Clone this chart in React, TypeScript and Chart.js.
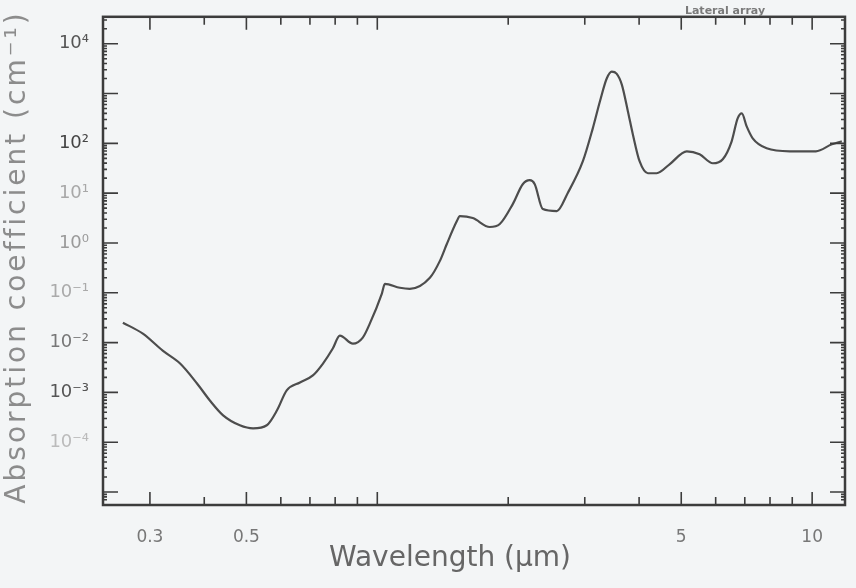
import { useEffect, useRef } from 'react';
import { Chart, registerables } from 'chart.js';

Chart.register(...registerables);

// Wavelength (µm)
const wavelengthUm = [
  0.26, 0.289, 0.321, 0.352, 0.385, 0.412, 0.442, 0.483, 0.518, 0.557,
  0.588, 0.619, 0.664, 0.711, 0.75, 0.79, 0.82, 0.879, 0.926, 0.961,
  1.024, 1.041, 1.127, 1.188, 1.321, 1.393, 1.445, 1.524, 1.548, 1.658,
  1.814, 1.913, 2.049, 2.16, 2.242, 2.302, 2.402, 2.587, 2.74, 2.97,
  3.13, 3.25, 3.37, 3.46, 3.55, 3.65, 3.77, 3.87, 4.01, 4.19,
  4.39, 4.7, 5.15, 5.51, 5.91, 6.23, 6.53, 6.74, 6.89, 7.07,
  7.3, 7.86, 8.88, 10.2, 11.1, 11.7,
];

// Absorption coefficient (cm⁻¹)
const absorptionPerCm = [
  0.0251, 0.0151, 0.0069, 0.0038, 0.00151, 0.00069, 0.000347, 0.000219, 0.00019, 0.000219,
  0.000437, 0.0011, 0.00158, 0.00219, 0.0038, 0.0076, 0.0138, 0.0095, 0.0126, 0.024,
  0.0955, 0.151, 0.126, 0.12, 0.2, 0.437, 0.955, 2.75, 3.47, 3.16,
  2.09, 2.4, 6.03, 15.1, 18.2, 15.1, 4.79, 4.37, 10, 43.7,
  200, 692, 2000, 2750, 2510, 1510, 437, 151, 43.7, 25.1,
  25.1, 38, 69.2, 60.3, 39.8, 47.9, 110, 316, 398, 219,
  126, 79.4, 69.2, 69.2, 95.5, 110,
];

const xTickValues = [0.3, 0.5, 5, 10];
const xTickText = ['0.3', '0.5', '5', '10'];
const yTickExponents = [4, 2, 1, 0, -1, -2, -3, -4];
const yTickText = ['10⁴', '10²', '10¹', '10⁰', '10⁻¹', '10⁻²', '10⁻³', '10⁻⁴'];

const xTitle = 'Wavelength (µm)';
const yTitle = 'Absorption coefficient (cm⁻¹)';
const cornerNote = 'Lateral array';

const X_MIN = 0.234;
const X_MAX = 11.9;
const Y_MIN = Math.pow(10, -5.26);
const Y_MAX = Math.pow(10, 4.54);

const yLabelShade: Record<number, string> = {
  4: '#555', 2: '#444', 1: '#a8a8a8', 0: '#9a9a9a', [-1]: '#aaa', [-2]: '#777', [-3]: '#555', [-4]: '#bbb',
};

function logTicks(min: number, max: number) {
  const out: number[] = [];
  for (let e = Math.floor(Math.log10(min)); e <= Math.ceil(Math.log10(max)); e++) {
    for (let m = 1; m <= 9; m++) {
      const v = m * Math.pow(10, e);
      if (v >= min * 0.9999 && v <= max * 1.0001) out.push(v);
    }
  }
  return out;
}

function isDecade(v: number) {
  const l = Math.log10(v);
  return Math.abs(l - Math.round(l)) < 1e-6;
}

function near(a: number, b: number) {
  return Math.abs(a - b) / b < 1e-6;
}

export default function App() {
  const ref = useRef<HTMLCanvasElement | null>(null);

  useEffect(() => {
    document.body.style.margin = '0';
    document.body.style.background = '#f3f5f6';
    const canvas = ref.current;
    if (!canvas) return;

    const decor = {
      id: 'decor',
      beforeDraw(chart: any) {
        const { ctx } = chart;
        ctx.save();
        ctx.fillStyle = '#f3f5f6';
        ctx.fillRect(0, 0, chart.width, chart.height);
        ctx.restore();
      },
      afterDatasetsDraw(chart: any) {
        const { ctx, chartArea: ca } = chart;
        const xs = chart.scales.x;
        const ys = chart.scales.y;
        ctx.save();
        ctx.strokeStyle = '#3c3c3c';
        ctx.lineWidth = 2.5;
        ctx.strokeRect(ca.left, ca.top, ca.right - ca.left, ca.bottom - ca.top);
        ctx.lineWidth = 1.6;
        ctx.beginPath();
        for (const t of xs.ticks) {
          const px = xs.getPixelForValue(t.value);
          if (px < ca.left + 2 || px > ca.right - 2) continue;
          const major = isDecade(t.value) || xTickValues.some((v) => near(t.value, v));
          const len = major ? 13 : 8;
          ctx.moveTo(px, ca.bottom);
          ctx.lineTo(px, ca.bottom - len);
          ctx.moveTo(px, ca.top);
          ctx.lineTo(px, ca.top + len);
        }
        for (const t of ys.ticks) {
          const py = ys.getPixelForValue(t.value);
          if (py < ca.top + 2 || py > ca.bottom - 2) continue;
          const len = isDecade(t.value) ? 15 : 4;
          ctx.moveTo(ca.left, py);
          ctx.lineTo(ca.left + len, py);
          ctx.moveTo(ca.right, py);
          ctx.lineTo(ca.right - len, py);
        }
        ctx.stroke();

        // axis titles
        ctx.fillStyle = '#666';
        ctx.font = '28px "DejaVu Sans"';
        ctx.textAlign = 'center';
        ctx.textBaseline = 'alphabetic';
        ctx.fillText(xTitle, 450, 566);

        ctx.save();
        ctx.translate(18, 257);
        ctx.rotate(-Math.PI / 2);
        ctx.fillStyle = '#8c8c8c';
        ctx.font = '28px "DejaVu Sans"';
        (ctx as any).letterSpacing = '3px';
        ctx.textBaseline = 'middle';
        ctx.fillText(yTitle, 0, 0);
        ctx.restore();

        ctx.fillStyle = '#7a7a7a';
        ctx.font = 'bold 11px "DejaVu Sans"';
        ctx.textAlign = 'center';
        ctx.fillText(cornerNote, 725, 14);
        ctx.restore();
      },
    };

    const chart = new Chart(canvas, {
      type: 'line',
      data: {
        datasets: [
          {
            data: wavelengthUm.map((w, i) => ({ x: w, y: absorptionPerCm[i] })),
            borderColor: '#4d4d4d',
            borderWidth: 2.2,
            pointRadius: 0,
            fill: false,
            cubicInterpolationMode: 'monotone',
          },
        ],
      },
      options: {
        animation: false,
        responsive: false,
        layout: { padding: { left: 0, right: 11, top: 15, bottom: 0 } },
        plugins: { legend: { display: false }, tooltip: { enabled: false }, title: { display: false } },
        scales: {
          x: {
            type: 'logarithmic',
            min: X_MIN,
            max: X_MAX,
            grid: { display: false },
            border: { display: false },
            afterBuildTicks: (s: any) => {
              s.ticks = logTicks(X_MIN, X_MAX).map((v) => ({ value: v }));
            },
            afterFit: (s: any) => {
              s.height = 83;
            },
            ticks: {
              autoSkip: false,
              maxRotation: 0,
              padding: 14,
              color: '#777',
              font: { family: 'DejaVu Sans', size: 17 },
              callback: (value: any) => {
                const v = Number(value);
                const i = xTickValues.findIndex((t) => near(v, t));
                return i >= 0 ? xTickText[i] : '';
              },
            },
          },
          y: {
            type: 'logarithmic',
            min: Y_MIN,
            max: Y_MAX,
            grid: { display: false },
            border: { display: false },
            afterBuildTicks: (s: any) => {
              s.ticks = logTicks(Y_MIN, Y_MAX).map((v) => ({ value: v }));
            },
            afterFit: (s: any) => {
              s.width = 103;
            },
            ticks: {
              autoSkip: false,
              padding: 6,
              font: { family: 'DejaVu Sans', size: 18 },
              color: (c: any) => {
                const v = c.tick ? c.tick.value : 1;
                return yLabelShade[Math.round(Math.log10(v))] || '#666';
              },
              callback: (value: any) => {
                const v = Number(value);
                if (!isDecade(v)) return '';
                const i = yTickExponents.indexOf(Math.round(Math.log10(v)));
                return i >= 0 ? yTickText[i] : '';
              },
            },
          },
        },
      },
      plugins: [decor],
    } as any);

    return () => chart.destroy();
  }, []);

  return (
    <div style={{ width: 856, height: 588 }}>
      <canvas ref={ref} width={856} height={588} style={{ display: 'block' }} />
    </div>
  );
}
